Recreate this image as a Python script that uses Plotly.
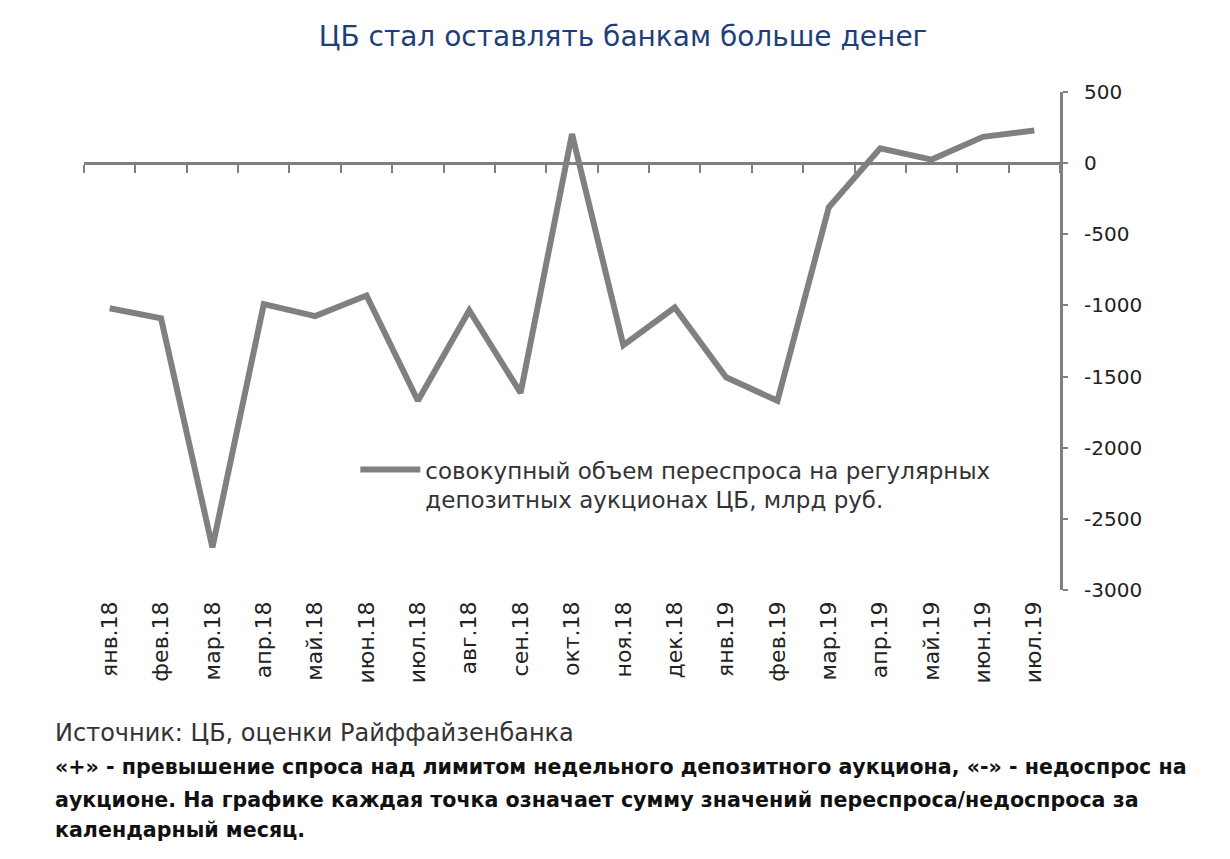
import plotly.graph_objects as go

months = ["янв.18", "фев.18", "мар.18", "апр.18", "май.18", "июн.18", "июл.18", "авг.18",
          "сен.18", "окт.18", "ноя.18", "дек.18", "янв.19", "фев.19", "мар.19", "апр.19",
          "май.19", "июн.19", "июл.19"]
values = [-1020, -1090, -2700, -990, -1075, -930, -1670, -1035, -1615, 205, -1280, -1015,
          -1505, -1670, -310, 105, 25, 185, 230]
y_ticks = [500, 0, -500, -1000, -1500, -2000, -2500, -3000]
y_tick_labels = ["500", "0", "-500", "-1000", "-1500", "-2000", "-2500", "-3000"]

series_name = "совокупный объем переспроса на регулярных<br>депозитных аукционах ЦБ, млрд руб."
title = "ЦБ стал оставлять банкам больше денег"
source = "Источник: ЦБ, оценки Райффайзенбанка"
note_lines = [
    "«+» - превышение спроса над лимитом недельного депозитного аукциона, «-» - недоспрос на",
    "аукционе. На графике каждая точка означает сумму значений переспроса/недоспроса за",
    "календарный месяц.",
]

WIDE = "DejaVu Sans"
GRAY = "#808080"
y_min, y_max = -3000, 500

fig = go.Figure()
fig.add_trace(go.Scatter(
    x=months, y=values, mode="lines", name=series_name,
    line=dict(color=GRAY, width=6), xaxis="x", yaxis="y",
))
# helper trace so the zero-line category axis is populated
fig.add_trace(go.Scatter(
    x=months, y=values, mode="lines", showlegend=False, hoverinfo="skip",
    line=dict(color="rgba(0,0,0,0)", width=0), xaxis="x2", yaxis="y",
))

zero_pos = (0 - y_min) / (y_max - y_min)
n = len(months)

fig.update_layout(
    width=1230, height=859,
    paper_bgcolor="white", plot_bgcolor="white",
    margin=dict(l=76, r=178, t=84, b=277),
    font=dict(family=WIDE, color="#222222"),
    title=dict(text=title, x=0.5, xanchor="center", y=0.967, yanchor="middle",
               font=dict(size=28, color="#1F3F7A", family=WIDE)),
    xaxis=dict(
        type="category", range=[-0.5, n - 0.5], showline=False, ticks="", showgrid=False,
        zeroline=False, tickangle=-90, tickfont=dict(size=22, color="#222222", family=WIDE),
        ticklabelstandoff=6, automargin=False,
    ),
    xaxis2=dict(
        type="category", overlaying="x", matches="x", anchor="free", position=zero_pos,
        side="bottom", showline=True, linecolor=GRAY, linewidth=3,
        ticks="outside", tickson="boundaries", ticklen=8, tickwidth=2, tickcolor=GRAY,
        showticklabels=False, showgrid=False, zeroline=False,
    ),
    yaxis=dict(
        range=[y_min, y_max], side="right", showline=True, linecolor=GRAY, linewidth=3,
        ticks="outside", ticklen=5, tickwidth=2, tickcolor=GRAY,
        tickvals=y_ticks, ticktext=y_tick_labels,
        showgrid=False, zeroline=False, tickfont=dict(size=20, color="#222222", family=WIDE),
        ticklabelstandoff=12, automargin=False,
    ),
    legend=dict(x=0.278, y=0.285, xanchor="left", yanchor="top", valign="top",
                bgcolor="rgba(0,0,0,0)", font=dict(size=23, color="#333333", family=WIDE),
                itemwidth=60),
    showlegend=True,
)

annotations = [dict(text=source, xref="paper", yref="paper", x=-0.032, y=-0.287,
                    xanchor="left", yanchor="middle", showarrow=False,
                    font=dict(size=24, color="#333333", family=WIDE))]
note_y = [-0.355, -0.422, -0.482]
for line, yy in zip(note_lines, note_y):
    annotations.append(dict(text="<b>" + line + "</b>", xref="paper", yref="paper",
                            x=-0.032, y=yy, xanchor="left", yanchor="middle",
                            showarrow=False,
                            font=dict(size=20.6, color="#111111", family=WIDE)))
fig.update_layout(annotations=annotations)

fig.write_html("out.html")
